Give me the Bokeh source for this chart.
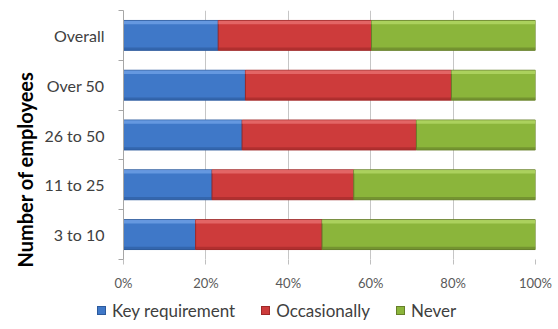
from bokeh.embed import file_html
from bokeh.resources import INLINE
from bokeh.layouts import column
from bokeh.plotting import figure
from bokeh.models import (ColumnDataSource, FixedTicker, NumeralTickFormatter,
                          Title, Range1d, Div)

# Survey results by company size (share of respondents)
categories = ["3 to 10", "11 to 25", "26 to 50", "Over 50", "Overall"]
key_requirement = [0.175, 0.215, 0.288, 0.296, 0.230]
occasionally = [0.307, 0.344, 0.423, 0.500, 0.372]
never = [0.518, 0.441, 0.289, 0.204, 0.398]
x_ticks = [0, 0.2, 0.4, 0.6, 0.8, 1.0]

series_names = ["Key requirement", "Occasionally", "Never"]
series_values = [key_requirement, occasionally, never]
base_colors = ["#3f78c8", "#cd3b3b", "#8bb53b"]
light_colors = ["#6fa0e6", "#e87070", "#b3d866"]
dark_colors = ["#2c5a9c", "#9e2828", "#667f2a"]

FONT = "Lato"

y_pos = [i + 0.5 for i in range(len(categories))]
bar_h = 0.6

p = figure(frame_width=412, frame_height=249,
           output_backend="svg", toolbar_location=None,
           x_range=Range1d(0, 1), y_range=Range1d(0, len(categories)),
           min_border_left=123, min_border_right=23, min_border_top=10,
           min_border_bottom=35, outline_line_color=None)

left = [0.0] * len(categories)
for name, vals, c, lc, dc in zip(series_names, series_values, base_colors,
                                 light_colors, dark_colors):
    right = [l + v for l, v in zip(left, vals)]
    src = ColumnDataSource(dict(
        y=y_pos, left=left, right=right,
        y_top=[y + bar_h / 2 - 0.04 for y in y_pos],
        y_bot=[y - bar_h / 2 + 0.03 for y in y_pos],
    ))
    p.hbar(y="y", left="left", right="right", height=bar_h, source=src,
           fill_color=c, line_color=dc, line_width=1)
    # bevel: light band along the top, dark band along the bottom
    p.hbar(y="y_top", left="left", right="right", height=0.07, source=src,
           fill_color=lc, fill_alpha=0.8, line_color=None)
    p.hbar(y="y_bot", left="left", right="right", height=0.05, source=src,
           fill_color=dc, fill_alpha=0.6, line_color=None)
    left = right

# x axis: percentages, no baseline
p.xaxis.ticker = FixedTicker(ticks=x_ticks)
p.xaxis.formatter = NumeralTickFormatter(format="0%")
p.xaxis.axis_line_color = None
p.xaxis.major_tick_line_color = "#bfbfbf"
p.xaxis.major_tick_out = 5
p.xaxis.major_tick_in = 0
p.xaxis.minor_tick_line_color = None
p.xaxis.major_label_standoff = 10
p.xaxis.major_label_text_font = FONT
p.xaxis.major_label_text_font_size = "13px"
p.xaxis.major_label_text_color = "#595959"

# y axis: labels at band centres, tick marks at band boundaries
p.yaxis.ticker = FixedTicker(ticks=y_pos,
                             minor_ticks=list(range(len(categories) + 1)))
p.yaxis.major_label_overrides = {y: c for y, c in zip(y_pos, categories)}
p.yaxis.axis_line_color = "#a6a6a6"
p.yaxis.major_tick_line_color = None
p.yaxis.major_tick_out = 0
p.yaxis.minor_tick_line_color = "#a6a6a6"
p.yaxis.minor_tick_out = 5
p.yaxis.minor_tick_in = 0
p.yaxis.major_label_standoff = 14
p.yaxis.major_label_text_font = FONT
p.yaxis.major_label_text_font_size = "16px"
p.yaxis.major_label_text_color = "#404040"

p.xgrid.ticker = FixedTicker(ticks=x_ticks[1:])
p.xgrid.grid_line_color = "#c6c6c6"
p.ygrid.grid_line_color = None

p.add_layout(Title(text="Number of employees", align="left", offset=-8,
                   text_font=FONT, text_font_style="bold",
                   text_font_size="20px", text_color="#000000"), "left")

# legend strip underneath the chart
entries = []
for i, (name, c, dc) in enumerate(zip(series_names, base_colors, dark_colors)):
    gap = 26 if i < len(series_names) - 1 else 0
    entries.append(
        f'<span style="display:inline-flex;align-items:center;margin-right:{gap}px;">'
        f'<span style="display:inline-block;width:9px;height:9px;background:{c};'
        f'border:1px solid {dc};margin-right:6px;"></span>'
        f'<span>{name}</span></span>'
    )
legend_html = (
    f'<div style="display:flex;align-items:center;white-space:nowrap;'
    f'padding-left:97px;padding-top:13px;height:20px;line-height:20px;'
    f'font-family:{FONT};font-size:17px;color:#404040;">'
    + "".join(entries) + "</div>"
)
legend_div = Div(text=legend_html, width=558, height=35, margin=(0, 0, 0, 0))

layout = column(p, legend_div, spacing=0)
open("out.html", "w").write(file_html(layout, INLINE))
